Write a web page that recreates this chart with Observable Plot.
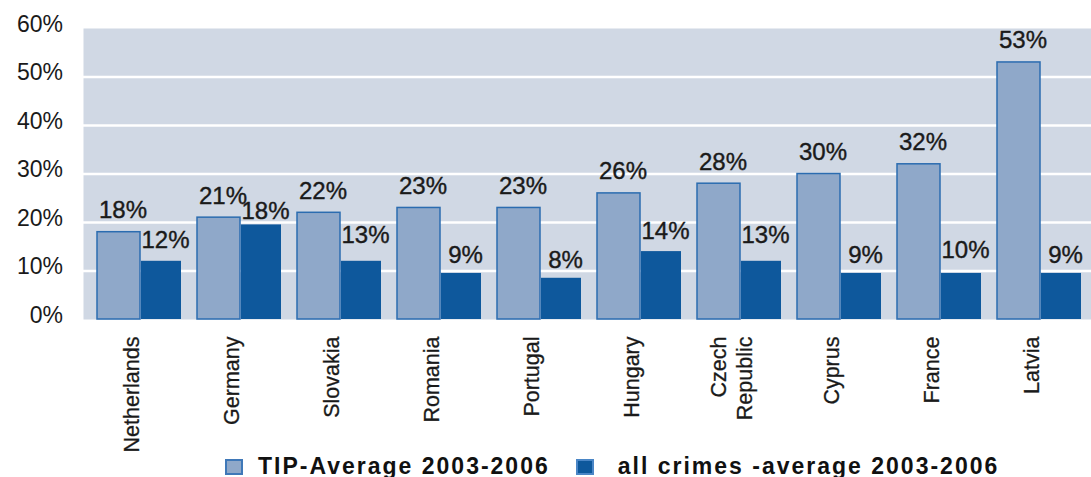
<!DOCTYPE html>
<html>
<head>
<meta charset="utf-8">
<script src="https://cdn.jsdelivr.net/npm/d3@7"></script>
<script src="https://cdn.jsdelivr.net/npm/@observablehq/plot@0.6"></script>
<style>
  html, body { margin: 0; padding: 0; background: white; overflow: hidden; }
  #chart svg { display: block; }
  #legend { height: 21px; box-sizing: border-box; padding-left: 225px;
            display: flex; align-items: center; font: bold 23px "Liberation Sans", Arial, sans-serif;
            letter-spacing: 2px; color: #111; white-space: nowrap; }
  #legend .sw { display: inline-block; width: 14px; height: 12px; box-sizing: content-box; }
</style>
</head>
<body>
<div id="chart"></div>
<div id="legend">
  <span class="sw" style="background:#8fa8c9;border:2px solid #3f78b8"></span>
  <span style="margin-left:15px">TIP-Average 2003-2006</span>
  <span class="sw" style="background:#0e589c;border:2px solid #4a86c6;margin-left:26px"></span>
  <span style="margin-left:24px">all crimes -average 2003-2006</span>
</div>
<script>
const countries = ["Netherlands", "Germany", "Slovakia", "Romania", "Portugal", "Hungary", "Czech Republic", "Cyprus", "France", "Latvia"];
const countryLabels = ["Netherlands", "Germany", "Slovakia", "Romania", "Portugal", "Hungary", "Czech\nRepublic", "Cyprus", "France", "Latvia"];
const tipValues = [18, 21, 22, 23, 23, 26, 28, 30, 32, 53];
const crimeValues = [12, 19.5, 12, 9.5, 8.5, 14, 12, 9.5, 9.5, 9.5];
const tipLabels = [18, 21, 22, 23, 23, 26, 28, 30, 32, 53];
const crimeLabels = [12, 18, 13, 9, 8, 14, 13, 9, 10, 9];
const yTicks = [0, 10, 20, 30, 40, 50, 60];
const gridTicks = [10, 20, 30, 40, 50];

const data = countries.map((c, i) => ({
  country: c, label: countryLabels[i],
  tip: tipValues[i], crime: crimeValues[i],
  tipLabel: tipLabels[i], crimeLabel: crimeLabels[i]
}));

const font = "'Liberation Sans', Arial, sans-serif";
const ink = "#1a1a1a";

const chart = Plot.plot({
  width: 1091,
  height: 456,
  marginLeft: 83,
  marginRight: -5,
  marginTop: 28,
  marginBottom: 137,
  style: { fontFamily: font, background: "white", color: ink },
  x: { domain: countries, paddingInner: 0.158, paddingOuter: 0.1, axis: null },
  y: { domain: [0, 60], axis: null, label: null },
  marks: [
    Plot.frame({ fill: "#d0d8e4", stroke: "none" }),
    Plot.gridY(gridTicks, { stroke: "white", strokeWidth: 2.5, strokeOpacity: 1 }),
    Plot.barY(data, { x: "country", y: "tip", fill: "#8fa8c9", stroke: "#2b6cb0", strokeWidth: 1.5, insetRight: 41 }),
    Plot.barY(data, { x: "country", y: "crime", fill: "#0e589c", insetLeft: 44 }),
    Plot.text(data, { x: "country", y: "tipLabel", text: d => d.tipLabel + "%", dx: -16.5, dy: -14,
      lineAnchor: "bottom", fontSize: 24, fill: ink, stroke: ink, strokeWidth: 0.4 }),
    Plot.text(data, { x: "country", y: "crimeLabel", text: d => d.crimeLabel + "%", dx: 26, dy: -13,
      lineAnchor: "bottom", fontSize: 24, fill: ink, stroke: ink, strokeWidth: 0.4 }),
    Plot.axisY(yTicks, { tickFormat: d => d + "%", tickSize: 0, tickPadding: 20.5, fontSize: 23, dy: -4,
      label: null, fill: ink, stroke: ink, strokeWidth: 0.4 }),
    Plot.text(data, { x: "country", text: "label", frameAnchor: "bottom", rotate: -90, textAnchor: "end",
      lineAnchor: "middle", lineHeight: 1.2, dy: 17, dx: -9, fontSize: 21.5, fill: ink, stroke: ink, strokeWidth: 0.3 })
  ]
});
document.getElementById("chart").appendChild(chart);
</script>
</body>
</html>
